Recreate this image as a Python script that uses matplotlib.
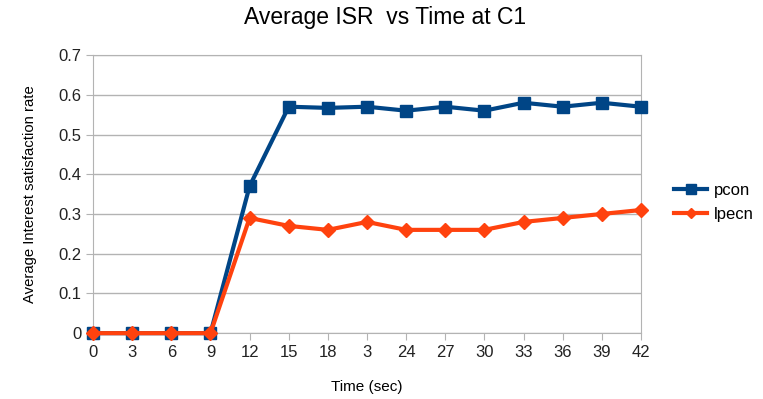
import matplotlib
matplotlib.use('Agg')
import matplotlib.pyplot as plt

plt.rcParams['font.family'] = ['Liberation Sans', 'DejaVu Sans']

# data
time_labels = ['0', '3', '6', '9', '12', '15', '18', '3', '24', '27', '30', '33', '36', '39', '42']
pcon = [0, 0, 0, 0, 0.37, 0.57, 0.567, 0.57, 0.56, 0.57, 0.56, 0.58, 0.57, 0.58, 0.57]
lpecn = [0, 0, 0, 0, 0.29, 0.27, 0.26, 0.28, 0.26, 0.26, 0.26, 0.28, 0.29, 0.30, 0.31]

fig = plt.figure(figsize=(7.63, 3.99), dpi=100)
ax = fig.add_axes([0.122, 0.165, 0.718, 0.697])

x = range(len(time_labels))
ax.plot(x, pcon, '-s', color='#004586', lw=3, ms=9, label='pcon', clip_on=False, zorder=3)
ax.plot(x, lpecn, '-D', color='#ff420e', lw=3, ms=7, label='lpecn', clip_on=False, zorder=4)

ax.set_xlim(0, len(time_labels) - 1)
ax.set_ylim(0, 0.7)
ax.set_xticks(list(x))
ax.set_xticklabels(time_labels)
ax.set_yticks([0, 0.1, 0.2, 0.3, 0.4, 0.5, 0.6, 0.7])
ax.set_yticklabels(['0', '0.1', '0.2', '0.3', '0.4', '0.5', '0.6', '0.7'])
ax.tick_params(labelsize=12, length=5, color='#b3b3b3', labelcolor='#222222')
ax.grid(True, axis='y', color='#b3b3b3', lw=1)
for s in ax.spines.values():
    s.set_color('#b3b3b3')

fig.text(0.505, 0.957, 'Average ISR  vs Time at C1', fontsize=16.5, ha='center', va='center')
ax.set_xlabel('Time (sec)', fontsize=11)
ax.set_ylabel('Average Interest satisfaction rate', fontsize=10.7)
ax.xaxis.set_label_coords(0.5, -0.168)
ax.yaxis.set_label_coords(-0.103, 0.5)

ax.legend(loc='center left', bbox_to_anchor=(1.033, 0.47), frameon=False, fontsize=12,
          handlelength=2.0, handletextpad=0.4, labelspacing=0.55, markerscale=0.8)

fig.savefig('out.png', dpi=100)
